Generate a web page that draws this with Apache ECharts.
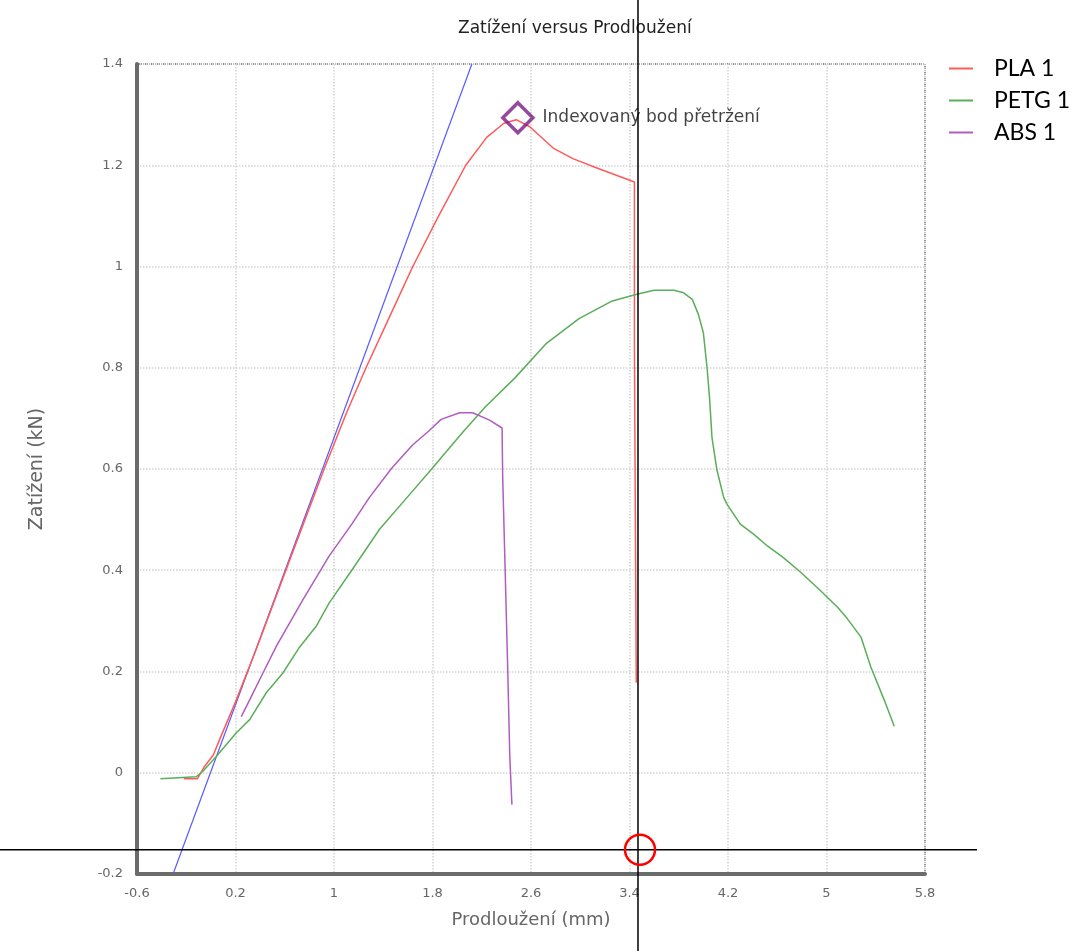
<!DOCTYPE html>
<html>
<head>
<meta charset="utf-8">
<script src="https://cdn.jsdelivr.net/npm/echarts@6/dist/echarts.min.js"></script>
<style>
  html, body { margin: 0; padding: 0; background: #fff; }
  #main { width: 1082px; height: 951px; }
</style>
</head>
<body>
<div id="main"></div>
<script>
// data: [elongation mm, load kN]
var pla1 = [[-0.22, -0.012], [-0.11, -0.012], [-0.05, 0.013], [0.02, 0.035], [0.07, 0.065], [0.2, 0.14],
  [0.37, 0.245], [0.64, 0.42], [0.92, 0.6], [1.1, 0.71], [1.26, 0.8], [1.45, 0.9], [1.64, 1.0],
  [1.85, 1.1], [2.07, 1.2], [2.24, 1.255], [2.38, 1.283], [2.48, 1.29], [2.59, 1.276],
  [2.78, 1.234], [2.94, 1.213], [3.13, 1.195], [3.44, 1.167], [3.44, 0.84], [3.455, 0.84], [3.455, 0.178]];
var petg1 = [[-0.41, -0.012], [-0.12, -0.008], [-0.065, 0.003], [0.044, 0.032], [0.207, 0.079], [0.315, 0.105],
  [0.45, 0.158], [0.585, 0.197], [0.72, 0.248], [0.857, 0.29], [0.96, 0.335], [1.15, 0.402], [1.37, 0.481],
  [1.58, 0.54], [1.8, 0.602], [2.04, 0.671], [2.23, 0.723], [2.47, 0.78], [2.72, 0.847], [2.99, 0.897],
  [3.26, 0.932], [3.46, 0.945], [3.6, 0.953], [3.76, 0.953], [3.84, 0.948], [3.91, 0.935], [3.96, 0.905],
  [4.0, 0.869], [4.03, 0.8], [4.05, 0.741], [4.07, 0.662], [4.11, 0.598], [4.165, 0.544], [4.19, 0.531],
  [4.3, 0.491], [4.41, 0.471], [4.52, 0.448], [4.65, 0.425], [4.79, 0.396], [4.95, 0.36], [5.09, 0.327],
  [5.17, 0.304], [5.28, 0.268], [5.36, 0.209], [5.47, 0.143], [5.55, 0.092]];
var abs1 = [[0.247, 0.111], [0.315, 0.144], [0.423, 0.197], [0.532, 0.25], [0.64, 0.296], [0.748, 0.342],
  [0.96, 0.428], [1.15, 0.493], [1.285, 0.543], [1.47, 0.602], [1.64, 0.648], [1.77, 0.675],
  [1.87, 0.698], [2.02, 0.711], [2.125, 0.711], [2.26, 0.697], [2.365, 0.681], [2.37, 0.585], [2.39, 0.401],
  [2.41, 0.214], [2.428, 0.03], [2.445, -0.063]];
var slopeLine = [[-0.307, -0.2], [2.12, 1.4]];
var breakPoint = [[2.493, 1.294]];
var cursorPoint = [3.469, -0.152];

var seriesNames = ['PLA 1', 'PETG 1', 'ABS 1'];

var myChart = echarts.init(document.getElementById('main'));
var font = 'DejaVu Sans';
option = {
    animation: false,
    title: {
        text: 'Zatížení versus Prodloužení',
        left: 453,
        top: 15,
        textStyle: { fontSize: 17, fontWeight: 'normal', color: '#222', fontFamily: font }
    },
    legend: {
        data: seriesNames,
        orient: 'vertical',
        left: 944,
        top: 52,
        icon: 'rect',
        itemWidth: 24,
        itemHeight: 2,
        itemGap: 9,
        textStyle: { fontSize: 23, color: '#000', fontFamily: 'Lato', padding: [0, 0, 0, 16] }
    },
    grid: {
        left: 137,
        right: 157,
        top: 64,
        bottom: 77,
        show: true,
        borderColor: '#222',
        borderWidth: 1,
        borderType: 'dotted'
    },
    xAxis: {
        type: 'value',
        min: -0.6,
        max: 5.8,
        interval: 0.8,
        name: 'Prodloužení (mm)',
        nameLocation: 'middle',
        nameGap: 37,
        nameTextStyle: { fontSize: 18, color: '#666', fontFamily: font },
        axisLine: { show: true, onZero: false, lineStyle: { color: '#6b6b6b', width: 4 } },
        axisTick: { show: false },
        axisLabel: { color: '#666', fontSize: 13, margin: 13, fontFamily: font },
        splitLine: { show: true, lineStyle: { color: '#d4d4d4', type: 'dotted', width: 1.5 } }
    },
    yAxis: {
        type: 'value',
        min: -0.2,
        max: 1.4,
        interval: 0.2,
        name: 'Zatížení (kN)',
        nameLocation: 'middle',
        nameGap: 90,
        nameTextStyle: { fontSize: 19, color: '#666', fontFamily: font },
        axisLine: { show: true, onZero: false, lineStyle: { color: '#6b6b6b', width: 4 } },
        axisTick: { show: false },
        axisLabel: { color: '#666', fontSize: 13, margin: 14, fontFamily: font },
        splitLine: { show: true, lineStyle: { color: '#d4d4d4', type: 'dotted', width: 1.5 } }
    },
    series: [{
        name: 'PLA 1',
        type: 'line',
        data: pla1,
        showSymbol: false,
        color: '#ff5a5a',
        lineStyle: { width: 1.5 }
    }, {
        name: 'PETG 1',
        type: 'line',
        data: petg1,
        showSymbol: false,
        color: '#5aae5a',
        lineStyle: { width: 1.5 }
    }, {
        name: 'ABS 1',
        type: 'line',
        data: abs1,
        showSymbol: false,
        color: '#b05cc0',
        lineStyle: { width: 1.5 }
    }, {
        name: 'slope',
        type: 'line',
        data: slopeLine,
        showSymbol: false,
        color: '#5a5aff',
        lineStyle: { width: 1.2 },
        z: 1
    }, {
        name: 'bod',
        type: 'scatter',
        data: breakPoint,
        symbol: 'diamond',
        symbolSize: [30, 30],
        itemStyle: { color: 'rgba(0,0,0,0)', borderColor: '#7b1c83', borderWidth: 3.5 },
        label: {
            show: true,
            position: 'right',
            distance: 8,
            formatter: 'Indexovaný bod přetržení',
            fontSize: 17,
            color: '#111',
            fontFamily: font
        },
        z: 5
    }]
};
myChart.setOption(option);

// cursor crosshair drawn across the whole picture
var c = myChart.convertToPixel({ gridIndex: 0 }, cursorPoint);
myChart.setOption({
    graphic: [{
        type: 'line',
        shape: { x1: c[0], y1: 0, x2: c[0], y2: 951 },
        style: { stroke: '#000', lineWidth: 1.5 },
        z: 100
    }, {
        type: 'line',
        shape: { x1: 0, y1: c[1], x2: 977, y2: c[1] },
        style: { stroke: '#000', lineWidth: 1.5 },
        z: 100
    }, {
        type: 'circle',
        shape: { cx: c[0] + 2, cy: c[1], r: 15 },
        style: { fill: 'none', stroke: '#f00', lineWidth: 2.5 },
        z: 101
    }]
});
</script>
</body>
</html>
